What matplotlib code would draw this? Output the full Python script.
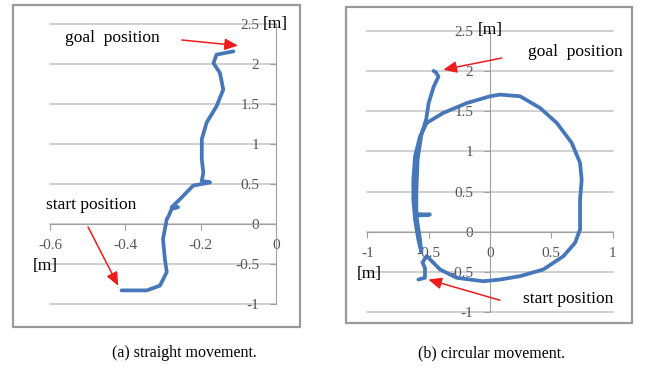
import matplotlib
matplotlib.use("Agg")
import matplotlib.pyplot as plt
from matplotlib.patches import Rectangle

plt.rcParams['font.family'] = ['Liberation Serif', 'DejaVu Serif']

# trajectory (a): straight movement
straight_x = [-0.41, -0.37, -0.343, -0.308, -0.29, -0.295, -0.30, -0.29, -0.285, -0.277,
              -0.26, -0.277, -0.255, -0.22, -0.175, -0.197, -0.193, -0.197, -0.197,
              -0.184, -0.158, -0.140, -0.149, -0.166, -0.158, -0.113]
straight_y = [-0.83, -0.83, -0.83, -0.77, -0.60, -0.44, -0.19, 0.06, 0.10, 0.19,
              0.21, 0.21, 0.31, 0.48, 0.52, 0.54, 0.64, 0.81, 1.06,
              1.27, 1.47, 1.68, 1.89, 2.01, 2.117, 2.158]

# trajectory (b): circular movement
circular_x = [-0.584, -0.53, -0.53, -0.55, -0.516, -0.407, -0.271, -0.055, 0.081, 0.245,
              0.434, 0.598, 0.693, 0.734, 0.734, 0.734, 0.747, 0.734, 0.666, 0.544,
              0.408, 0.245, 0.081, 0.0, -0.19, -0.381, -0.516, -0.570, -0.611, -0.625,
              -0.625, -0.611, -0.584, -0.56, -0.57, -0.60, -0.49, -0.60, -0.60, -0.59,
              -0.56, -0.52, -0.50, -0.46, -0.42, -0.44, -0.46]
circular_y = [-0.593, -0.571, -0.45, -0.38, -0.30, -0.468, -0.571, -0.614, -0.593, -0.551,
              -0.468, -0.303, -0.137, 0.029, 0.194, 0.401, 0.65, 0.857, 1.106, 1.354,
              1.54, 1.685, 1.706, 1.685, 1.60, 1.478, 1.354, 1.188, 0.94, 0.65,
              0.40, 0.153, -0.096, -0.25, -0.10, 0.20, 0.215, 0.22, 0.50, 0.90,
              1.20, 1.40, 1.60, 1.80, 1.93, 1.98, 2.0]

y_ticks = [-1, -0.5, 0, 0.5, 1, 1.5, 2, 2.5]
y_labels = ['-1', '-0.5', '0', '0.5', '1', '1.5', '2', '2.5']
xa_ticks = [-0.6, -0.4, -0.2, 0]
xa_labels = ['-0.6', '-0.4', '-0.2', '0']
xb_ticks = [-1, -0.5, 0, 0.5, 1]
xb_labels = ['-1', '-0.5', '0', '0.5', '1']

W, H = 656, 368
fig = plt.figure(figsize=(W / 100, H / 100), dpi=100)


def frac(x0, y0, x1, y1):
    # pixel box -> figure fraction [left, bottom, width, height]
    return [x0 / W, 1 - y1 / H, (x1 - x0) / W, (y1 - y0) / H]


# outer gray frames
for box in [(13, 5, 300, 327), (346, 7, 632, 323)]:
    l, b, w, h = frac(*box)
    fig.patches.append(Rectangle((l, b), w, h, transform=fig.transFigure,
                                 fill=False, edgecolor='#9a9a9a', linewidth=1.6))

ax1 = fig.add_axes(frac(50, 24, 276, 304))
ax2 = fig.add_axes(frac(367.3, 30.7, 612.7, 312.3))

line_color = '#4677b8'
grid_color = '#c4c4c4'
axis_color = '#a0a0a0'
tick_color = '#555555'


def style(ax, xlim, xt, xl):
    ax.set_xlim(*xlim)
    ax.set_ylim(-1, 2.5)
    for yv in y_ticks:
        ax.axhline(yv, color=grid_color, lw=1.1, zorder=0, clip_on=False)
    ax.spines['top'].set_visible(False)
    ax.spines['right'].set_visible(False)
    ax.spines['left'].set_position(('data', 0))
    ax.spines['bottom'].set_position(('data', 0))
    ax.spines['left'].set_color(axis_color)
    ax.spines['bottom'].set_color(axis_color)
    ax.set_xticks(xt)
    ax.set_xticklabels(xl)
    ax.set_yticks(y_ticks)
    ax.set_yticklabels(y_labels)
    ax.tick_params(axis='both', direction='out', length=4, color=axis_color,
                   labelcolor=tick_color, labelsize=11)
    ax.tick_params(axis='x', pad=7)
    ax.tick_params(axis='y', pad=8)
    ax.set_facecolor('none')


style(ax1, (-0.6, 0), xa_ticks, xa_labels)
style(ax2, (-1, 1), xb_ticks, xb_labels)

ax1.plot(straight_x, straight_y, color=line_color, lw=2.7, solid_capstyle='round',
         solid_joinstyle='round', zorder=3, clip_on=False)
ax2.plot(circular_x, circular_y, color=line_color, lw=2.7, solid_capstyle='round',
         solid_joinstyle='round', zorder=3, clip_on=False)

arrow = dict(arrowstyle='-|>,head_length=0.8,head_width=0.35', color='#ee1c1c', lw=1.1,
             shrinkA=0, shrinkB=0)
txt = dict(fontsize=12.5, color='black', va='center')

# panel (a) annotations
ax1.text(-0.434, 2.32, 'goal  position', ha='center', **txt)
ax1.annotate('', xy=(-0.101, 2.23), xytext=(-0.250, 2.30), arrowprops=arrow,
             annotation_clip=False)
ax1.text(-0.491, 0.237, 'start position', ha='center', **txt)
ax1.annotate('', xy=(-0.419, -0.772), xytext=(-0.499, -0.037), arrowprops=arrow,
             annotation_clip=False)
ax1.text(-0.035, 2.50, '[m]', ha='left', **txt)
ax1.text(-0.645, -0.523, '[m]', ha='left', **txt)

# panel (b) annotations
ax2.text(0.693, 2.24, 'goal  position', ha='center', **txt)
ax2.annotate('', xy=(-0.381, 2.015), xytext=(0.095, 2.16), arrowprops=arrow,
             annotation_clip=False)
ax2.text(0.636, -0.84, 'start position', ha='center', **txt)
ax2.annotate('', xy=(-0.503, -0.593), xytext=(0.081, -0.85), arrowprops=arrow,
             annotation_clip=False)
ax2.text(-0.098, 2.51, '[m]', ha='left', **txt)
ax2.text(-1.084, -0.53, '[m]', ha='left', **txt)

fig.text(184 / W, 1 - 353 / H, '(a) straight movement.', ha='center', va='center', fontsize=11.5)
fig.text(491 / W, 1 - 353 / H, '(b) circular movement.', ha='center', va='center', fontsize=11.5)

fig.savefig('out.png', dpi=100)
